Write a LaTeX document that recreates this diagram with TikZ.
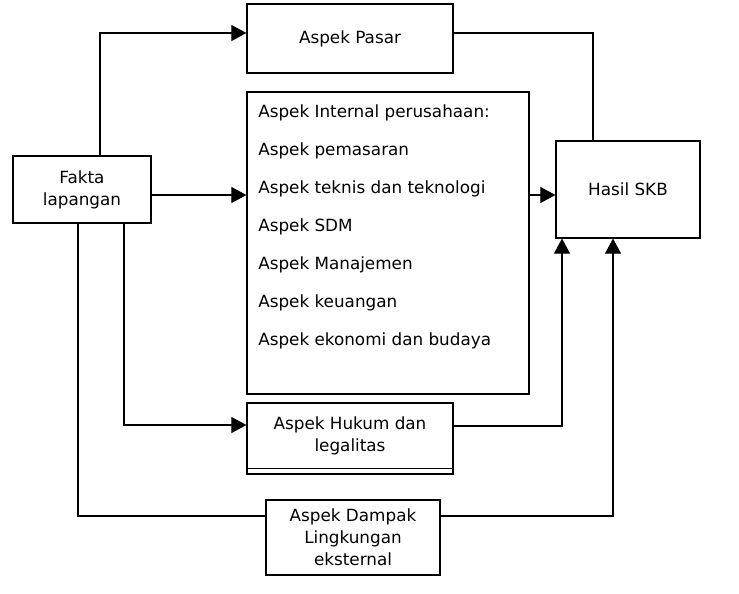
\documentclass[tikz,border=0pt]{standalone}
\usepackage{fontspec}
\setmainfont{DejaVu Sans}
\usetikzlibrary{arrows.meta}
\begin{document}
\begin{tikzpicture}[x=0.75pt,y=-0.75pt,
  font=\fontsize{12.6}{16.5}\selectfont,
  box/.style={draw, line width=0.9pt, inner sep=0pt, align=center},
  txt/.style={inner sep=0pt, align=center},
  ltxt/.style={inner sep=0pt, anchor=base west},
  conn/.style={line width=0.8pt},
  arr/.style={conn, -{Triangle[length=11.25pt,width=12pt]}}]
\useasboundingbox (0,0) rectangle (739,593);
% boxes
\node[box, minimum width=103.5pt, minimum height=50.25pt] (fakta) at (82,189.5) {Fakta\\lapangan};
\node[box, minimum width=154.5pt, minimum height=51.75pt] (pasar) at (350,38.5) {Aspek Pasar};
\node[box, minimum width=211.5pt, minimum height=226.5pt] (internal) at (388,243) {};
\node[box, minimum width=108pt, minimum height=72.75pt] (hasil) at (628,189.5) {Hasil SKB};
\node[box, minimum width=154.5pt, minimum height=53.25pt] (hukum) at (350,438.5) {};
\node[txt] (hukumtxt) at (350,436) {Aspek Hukum dan\\legalitas};
\node[box, minimum width=130.5pt, minimum height=56.25pt] (dampak) at (353,537.5) {Aspek Dampak\\Lingkungan\\eksternal};
\draw[line width=0.9pt] ([yshift=4.5pt]hukum.south west) -- ([yshift=4.5pt]hukum.south east);
% internal lines
\node[ltxt] (l1) at (258,117) {Aspek Internal perusahaan:};
\node[ltxt] (l2) at (258,155) {Aspek pemasaran};
\node[ltxt] (l3) at (258,193) {Aspek teknis dan teknologi};
\node[ltxt] (l4) at (258,231) {Aspek SDM};
\node[ltxt] (l5) at (258,269) {Aspek Manajemen};
\node[ltxt] (l6) at (258,307) {Aspek keuangan};
\node[ltxt] (l7) at (258,345) {Aspek ekonomi dan budaya};
% connector bends
\coordinate (c1) at (100,33);
\coordinate (c2) at (0,195);
\coordinate (c3) at (124,425);
\coordinate (c4) at (78,516);
\coordinate (c5) at (593,33);
\coordinate (c7) at (562,426);
\coordinate (c8) at (613,516);
% connectors
\draw[arr] (fakta.north -| c1) -- (c1) -- (pasar.west |- c1);
\draw[arr] (fakta.east |- c2) -- (internal.west |- c2);
\draw[arr] (fakta.south -| c3) -- (c3) -- (hukum.west |- c3);
\draw[conn] (fakta.south -| c4) -- (c4) -- (dampak.west |- c4);
\draw[conn] (pasar.east |- c5) -- (c5) -- (hasil.north -| c5);
\draw[arr] (internal.east |- c2) -- (hasil.west |- c2);
\draw[arr] (hukum.east |- c7) -- (c7) -- (hasil.south -| c7);
\draw[arr] (dampak.east |- c8) -- (c8) -- (hasil.south -| c8);
\end{tikzpicture}
\end{document}
